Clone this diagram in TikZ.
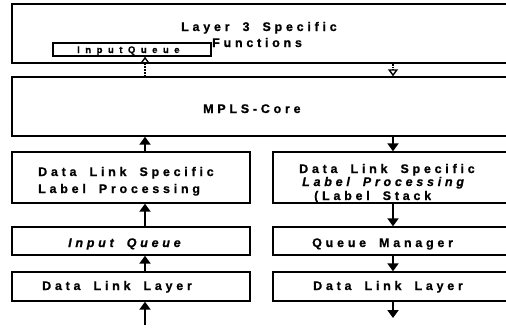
\documentclass[tikz,border=0pt]{standalone}
\usepackage{fontspec}
\setmainfont{Liberation Sans}[LetterSpace=30,WordSpace=1.8,BoldFeatures={FakeBold=0.7},BoldItalicFeatures={FakeBold=0.7}]
\newfontfamily\widefont{Liberation Sans}[LetterSpace=58,BoldFeatures={FakeBold=0.7}]
\usetikzlibrary{arrows.meta}
\begin{document}
\begin{tikzpicture}[x=1pt,y=-1pt,
  box/.style={draw,line width=1.4pt,rectangle,inner sep=0pt},
  arr/.style={line width=2.6pt,-{Triangle[width=11pt,length=8pt]}},
  harr/.style={line width=1.8pt,densely dotted,-{Triangle[open,width=10pt,length=7pt,line width=1.4pt]}},
  lbl/.style={inner sep=0pt,anchor=base west,font=\bfseries\fontsize{12.5}{14}\selectfont},
  ilbl/.style={lbl,font=\bfseries\itshape\fontsize{12.5}{14}\selectfont}]
\clip (0,0) rectangle (506,327);
\useasboundingbox (0,0) rectangle (506,327);
% boxes
\node[box,minimum width=501pt,minimum height=59pt] (l3) at (262.5,33.5) {};
\node[box,minimum width=158pt,minimum height=13pt] (iq) at (132,49.5) {};
\node[box,minimum width=501pt,minimum height=59pt] (mpls) at (262.5,106.5) {};
\node[box,minimum width=238pt,minimum height=51pt] (ls) at (131,177.5) {};
\node[box,minimum width=240pt,minimum height=51pt] (rs) at (393,177.5) {};
\node[box,minimum width=238pt,minimum height=28pt] (liq) at (131,241) {};
\node[box,minimum width=240pt,minimum height=28pt] (rqm) at (393,241) {};
\node[box,minimum width=238pt,minimum height=29pt] (ldl) at (131,286.5) {};
\node[box,minimum width=240pt,minimum height=29pt] (rdl) at (393,286.5) {};
% texts
\node[lbl] (t1) at (181,31) {Layer 3 Specific};
\node[lbl] (t2) at (212,47) {Functions};
\node[inner sep=0pt,anchor=base west,font=\widefont\bfseries\fontsize{9.5}{10}\selectfont] (t3) at (77,53) {InputQueue};
\node[lbl] (t4) at (203,113) {MPLS-Core};
\node[lbl] (t5) at (38,176) {Data Link Specific};
\node[lbl] (t6) at (38,193) {Label Processing};
\node[lbl] (t7) at (299,173) {Data Link Specific};
\node[ilbl] (t8) at (302,186) {Label Processing};
\node[lbl] (t9) at (314,200) {(Label Stack};
\node[ilbl] (t10) at (68,247) {Input Queue};
\node[lbl] (t11) at (312,247) {Queue Manager};
\node[lbl] (t12) at (42,290) {Data Link Layer};
\node[lbl] (t13) at (313,290) {Data Link Layer};
% arrow columns
\coordinate (ax) at (145,0);
\coordinate (bx) at (393,0);
\coordinate (lin) at (145,325);
\coordinate (rout) at (393,318);
\draw[arr] (lin) -- (ldl.south -| ax);
\draw[arr] (ldl.north -| ax) -- (liq.south -| ax);
\draw[arr] (liq.north -| ax) -- (ls.south -| ax);
\draw[arr] (ls.north -| ax) -- (mpls.south -| ax);
\draw[harr] (mpls.north -| ax) -- (iq.south -| ax);
\draw[harr] (l3.south -| bx) -- (mpls.north -| bx);
\draw[arr] (mpls.south -| bx) -- (rs.north -| bx);
\draw[arr] (rs.south -| bx) -- (rqm.north -| bx);
\draw[arr] (rqm.south -| bx) -- (rdl.north -| bx);
\draw[arr] (rdl.south -| bx) -- (rout);
\end{tikzpicture}
\end{document}
